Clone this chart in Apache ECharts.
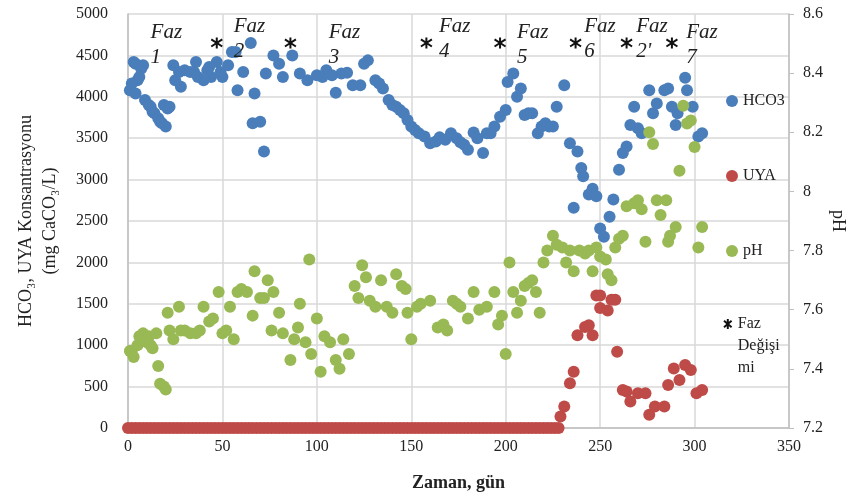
<!DOCTYPE html>
<html>
<head>
    <meta charset="utf-8">
    <title>HCO3 / UYA / pH</title>
    <script src="https://cdn.jsdelivr.net/npm/echarts@6/dist/echarts.min.js"></script>
    <style>
        html, body { margin: 0; padding: 0; background: #fff; }
    </style>
</head>
<body>
    <div id="main" style="width: 866px;height:499px;"></div>
    <script type="text/javascript">
    // gün, HCO3 (mg CaCO3/L)
    var hco3Data = [
        [1,4080],[2,4160],[3,4420],[4,4040],[4,4400],[5,4200],[6,4240],[7,4340],[8,4380],[9,3960],
        [11,3900],[12,3880],[13,3820],[14,3800],[16,3740],[17,3700],[18,3680],[19,3900],[20,3640],[21,3860],
        [22,3880],[24,4380],[25,4200],[27,4300],[28,4120],[30,4320],[33,4300],[35,4300],[36,4420],[37,4240],
        [40,4200],[42,4320],[43,4360],[44,4240],[47,4420],[49,4300],[50,4240],[53,4380],[55,4540],[57,4540],
        [58,4080],[61,4300],[65,4650],[66,3680],[67,4040],[70,3700],[72,3340],[73,4280],[77,4500],[80,4400],
        [82,4240],[87,4500],[91,4280],[95,4200],[100,4260],[103,4240],[105,4320],[108,4260],[110,4050],[113,4280],
        [116,4290],[119,4140],[123,4140],[125,4400],[127,4440],[131,4200],[133,4160],[135,4100],[138,3960],[140,3900],
        [142,3880],[144,3840],[146,3800],[148,3720],[150,3640],[152,3600],[154,3560],[157,3520],[160,3440],[163,3460],
        [165,3510],[168,3480],[171,3560],[174,3500],[176,3450],[178,3420],[180,3360],[183,3570],[185,3500],[188,3320],
        [190,3560],[192,3560],[194,3640],[197,3760],[200,3840],[201,4180],[204,4280],[206,4000],[208,4100],[210,3780],
        [212,3800],[214,3800],[217,3560],[219,3640],[221,3680],[223,3640],[225,3640],[227,3880],[231,4140],[234,3440],
        [236,2660],[238,3340],[240,3140],[241,3040],[244,2820],[246,2890],[248,2800],[250,2410],[252,2310],[255,2550],
        [257,2760],[260,3120],[262,3320],[264,3400],[266,3660],[268,3880],[270,3620],[272,3560],[276,4080],[278,3800],
        [280,3920],[284,4080],[286,4100],[288,3880],[290,3660],[291,3800],[295,4230],[296,4080],[299,3880],[302,3520],
        [304,3560]
    ];

    // UYA: günler 0..228 arası ölçümler sıfır
    var uyaZeroDays = [
        0,2,4,6,8,10,12,14,16,18,20,22,24,26,28,30,32,34,36,38,40,42,44,46,48,50,52,54,56,58,
        60,62,64,66,68,70,72,74,76,78,80,82,84,86,88,90,92,94,96,98,100,102,104,106,108,110,112,114,116,118,
        120,122,124,126,128,130,132,134,136,138,140,142,144,146,148,150,152,154,156,158,160,162,164,166,168,170,172,174,176,178,
        180,182,184,186,188,190,192,194,196,198,200,202,204,206,208,210,212,214,216,218,220,222,224,226,228
    ];
    var uyaData = [
        [229,140],[231,260],[234,540],[236,680],[238,1120],[242,1220],[244,1240],[246,1120],[248,1600],[250,1600],
        [250,1450],[254,1420],[256,1550],[258,1550],[259,920],[262,460],[264,440],[266,320],[270,420],[274,420],
        [276,160],[279,260],[284,260],[286,520],[289,720],[292,580],[295,760],[298,700],[301,420],[304,460]
    ];

    // gün, pH
    var phData = [
        [1,7.46],[2,7.46],[3,7.44],[5,7.48],[6,7.51],[8,7.52],[10,7.49],[11,7.51],[12,7.48],[13,7.47],
        [15,7.52],[16,7.41],[17,7.35],[19,7.34],[20,7.33],[21,7.59],[22,7.53],[24,7.50],[27,7.61],[28,7.53],
        [30,7.53],[33,7.52],[36,7.52],[38,7.53],[40,7.61],[43,7.56],[45,7.57],[48,7.66],[50,7.52],[52,7.53],
        [54,7.61],[56,7.50],[58,7.66],[60,7.67],[63,7.66],[66,7.58],[67,7.73],[70,7.64],[72,7.64],[74,7.70],
        [76,7.53],[77,7.66],[80,7.59],[82,7.52],[86,7.43],[88,7.50],[90,7.54],[91,7.62],[94,7.49],[96,7.77],
        [97,7.45],[100,7.57],[102,7.39],[104,7.51],[107,7.49],[110,7.43],[112,7.40],[114,7.50],[117,7.45],[120,7.68],
        [122,7.64],[124,7.75],[126,7.71],[128,7.63],[131,7.61],[134,7.70],[137,7.61],[140,7.59],[142,7.72],[145,7.68],
        [147,7.67],[148,7.59],[150,7.50],[153,7.61],[155,7.62],[160,7.63],[164,7.54],[167,7.55],[169,7.53],[172,7.63],
        [174,7.62],[176,7.61],[180,7.57],[183,7.66],[186,7.60],[190,7.61],[194,7.66],[196,7.55],[198,7.58],[200,7.45],
        [202,7.76],[204,7.66],[206,7.59],[208,7.63],[210,7.68],[212,7.69],[214,7.70],[216,7.66],[218,7.59],[220,7.76],
        [222,7.80],[225,7.85],[227,7.82],[230,7.81],[232,7.76],[234,7.80],[236,7.73],[239,7.80],[242,7.79],[244,7.80],
        [246,7.73],[248,7.81],[250,7.78],[253,7.77],[254,7.72],[256,7.70],[258,7.81],[260,7.84],[262,7.85],[264,7.95],
        [268,7.96],[270,7.97],[272,7.94],[274,7.83],[276,8.20],[278,8.16],[280,7.97],[282,7.92],[285,7.97],[286,7.83],
        [287,7.85],[290,7.88],[292,8.07],[294,8.29],[296,8.23],[298,8.24],[300,8.15],[302,7.81],[304,7.88]
    ];

    // faz değişim günleri (yıldız işaretleri)
    var phaseDays = [47, 86, 158, 197, 237, 264, 288];
    var phaseLevel = 4650;

    // faz etiketleri
    var phaseNames = ['1', '2', '3', '4', '5', '6', "2'", '7'];
    var phaseLabelDays = [11.7, 55.7, 106, 164.4, 205.7, 241.3, 268.8, 295.3];
    var phaseLabelY = [4620, 4700, 4620, 4700, 4620, 4700, 4700, 4620];

    var SERIF = '"Liberation Serif", "DejaVu Serif", serif';
    var BLUE = '#4a7ebb', RED = '#be4b48', GREEN = '#98b954';
    var STAR = 'path://M5,0L5,10M1.2,1.8L8.8,8.2M1.2,8.2L8.8,1.8';

    var myChart = echarts.init(document.getElementById('main'));

    var option = {
        animation: false,
        backgroundColor: '#fff',
        textStyle: { fontFamily: SERIF },
        grid: { left: 128, right: 77, top: 14, bottom: 71, outerBoundsMode: 'none' },
        legend: [{
            data: ['HCO3', 'UYA', 'pH'],
            orient: 'vertical',
            left: 721, top: 86,
            itemWidth: 12, itemHeight: 12, itemGap: 55,
            icon: 'circle',
            textStyle: { fontFamily: SERIF, fontSize: 16, color: '#222', lineHeight: 20 }
        }, {
            data: ['Faz Değişimi'],
            orient: 'vertical',
            left: 718, top: 264,
            itemWidth: 10, itemHeight: 10,
            formatter: function () { return '\n\nFaz\nDeğişi\nmi'; },
            textStyle: { fontFamily: SERIF, fontSize: 16, color: '#222', lineHeight: 22 }
        }],
        xAxis: {
            type: 'value',
            min: 0, max: 350, interval: 50,
            name: 'Zaman, gün',
            nameLocation: 'middle',
            nameGap: 46,
            nameTextStyle: { fontFamily: SERIF, fontSize: 18, fontWeight: 'bold', color: '#222' },
            axisLine: { lineStyle: { color: '#bfbfbf', width: 1.5 } },
            axisTick: { show: false },
            axisLabel: { fontFamily: SERIF, fontSize: 16, color: '#222', margin: 11 },
            splitLine: { lineStyle: { color: '#d9d9d9', width: 1.5 } }
        },
        yAxis: [{
            type: 'value',
            min: 0, max: 5000, interval: 500,
            name: 'HCO₃, UYA Konsantrasyonu\n(mg CaCO₃/L)',
            nameLocation: 'middle',
            nameRotate: 90,
            nameGap: 66,
            nameTextStyle: { fontFamily: SERIF, fontSize: 18, color: '#222', lineHeight: 24 },
            axisLine: { show: true, lineStyle: { color: '#bfbfbf', width: 1.5 } },
            axisTick: { show: false },
            axisLabel: {
                fontFamily: SERIF, fontSize: 16, color: '#222', margin: 20,
                formatter: function (v) { return String(v); }
            },
            splitLine: { lineStyle: { color: '#d9d9d9', width: 1.5 } }
        }, {
            type: 'value',
            position: 'right',
            min: 7.2, max: 8.6, interval: 0.2,
            name: 'pH',
            nameLocation: 'middle',
            nameRotate: -90,
            nameGap: 40,
            nameMoveOverlap: false,
            nameTextStyle: { fontFamily: SERIF, fontSize: 18, color: '#222' },
            axisLine: { show: true, lineStyle: { color: '#bfbfbf', width: 1.5 } },
            axisTick: { show: true, length: 5, lineStyle: { color: '#bfbfbf' } },
            axisLabel: {
                fontFamily: SERIF, fontSize: 16, color: '#222', margin: 14,
                formatter: function (v) { return String(Math.round(v * 10) / 10); }
            },
            splitLine: { show: false }
        }],
        series: [{
            name: 'HCO3',
            type: 'scatter',
            yAxisIndex: 0,
            symbolSize: 12,
            itemStyle: { color: BLUE, opacity: 1 },
            data: hco3Data
        }, {
            name: 'UYA',
            type: 'scatter',
            yAxisIndex: 0,
            symbolSize: 12,
            itemStyle: { color: RED, opacity: 1 },
            data: uyaZeroDays.map(function (d) { return [d, 0]; }).concat(uyaData)
        }, {
            name: 'pH',
            type: 'scatter',
            yAxisIndex: 1,
            symbolSize: 12,
            itemStyle: { color: GREEN, opacity: 1 },
            data: phData
        }, {
            name: 'Faz Değişimi',
            type: 'scatter',
            yAxisIndex: 0,
            symbol: STAR,
            symbolSize: 11,
            itemStyle: { color: '#111', borderColor: '#111', borderWidth: 2, opacity: 1 },
            data: phaseDays.map(function (d) { return [d, phaseLevel]; })
        }, {
            name: 'fazEtiket',
            type: 'scatter',
            yAxisIndex: 0,
            silent: true,
            symbolSize: 1,
            itemStyle: { color: 'rgba(0,0,0,0)', opacity: 1 },
            label: {
                show: true,
                position: 'right',
                distance: 0,
                align: 'left',
                fontFamily: SERIF,
                fontStyle: 'italic',
                fontSize: 21,
                lineHeight: 25,
                color: '#222',
                formatter: function (p) { return 'Faz\n' + phaseNames[p.dataIndex]; }
            },
            data: phaseLabelDays.map(function (d, i) { return [d, phaseLabelY[i]]; })
        }]
    };

    myChart.setOption(option);
    </script>
</body>
</html>
